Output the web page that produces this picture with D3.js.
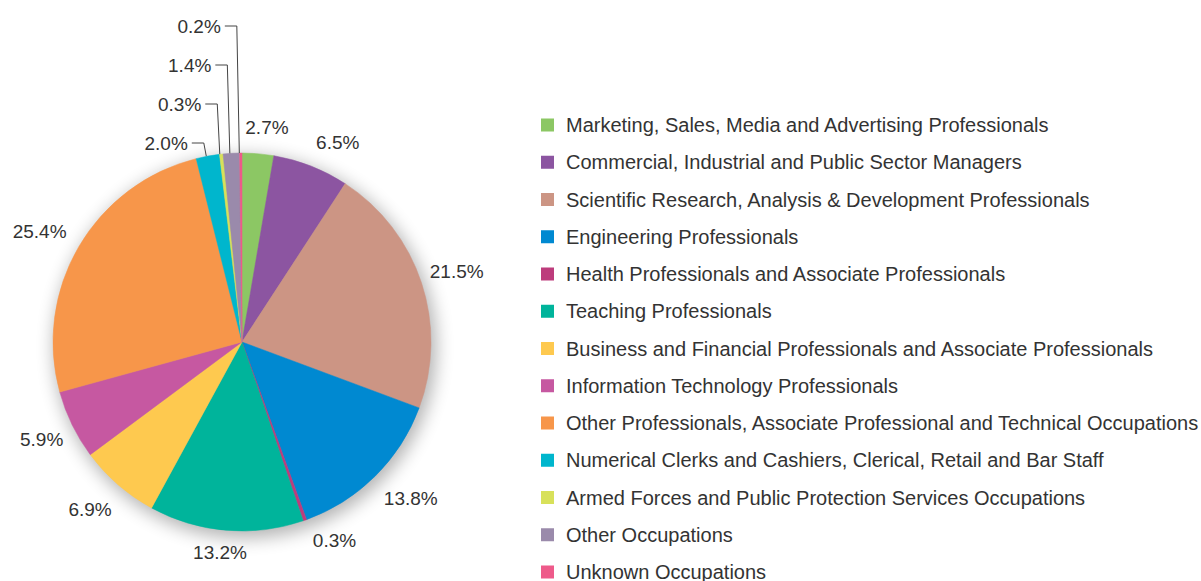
<!DOCTYPE html>
<html>
<head>
<meta charset="utf-8">
<script src="https://cdn.jsdelivr.net/npm/d3@7"></script>
<style>
    body { margin: 0; background: #fff; }
    text { font-family: "Liberation Sans", Arial, sans-serif; fill: #333; }
</style>
</head>
<body>
<div id="graph"></div>
<script>
const categories = [
    "Marketing, Sales, Media and Advertising Professionals",
    "Commercial, Industrial and Public Sector Managers",
    "Scientific Research, Analysis & Development Professionals",
    "Engineering Professionals",
    "Health Professionals and Associate Professionals",
    "Teaching Professionals",
    "Business and Financial Professionals and Associate Professionals",
    "Information Technology Professionals",
    "Other Professionals, Associate Professional and Technical Occupations",
    "Numerical Clerks and Cashiers, Clerical, Retail and Bar Staff",
    "Armed Forces and Public Protection Services Occupations",
    "Other Occupations",
    "Unknown Occupations",
];
const shares = [2.7, 6.5, 21.5, 13.8, 0.3, 13.2, 6.9, 5.9, 25.4, 2.0, 0.3, 1.4, 0.2];
const colors = [
    "#8cc764", "#8c55a1", "#cc9584", "#0089d1", "#bd3c7c", "#00b49b", "#fec94f",
    "#c658a1", "#f7964a", "#00b6cd", "#d8e15a", "#9a8aab", "#ee5a8a",
];
// slices whose labels are pulled up above the pie with leader lines
const calledOut = [9, 10, 11, 12];
// hand nudges of the outside labels, px (layout only)
const labelNudge = [
    [6, 9], [14, 9], [2, -1], [11, -3], [18, -13], [-3, -13], [-5, -2], [1, -1], [-9, 2],
];

const width = 1201, height = 581;
const cx = 242, cy = 342, radius = 189;

const svg = d3.select("#graph").append("svg")
    .attr("width", width)
    .attr("height", height);

const defs = svg.append("defs");
const shadow = defs.append("filter").attr("id", "shadow")
    .attr("x", "-30%").attr("y", "-30%").attr("width", "160%").attr("height", "160%");
shadow.append("feGaussianBlur").attr("stdDeviation", 9);

const data = categories.map((name, i) => ({ name, value: shares[i], color: colors[i], i }));

const pie = d3.pie().sort(null).value((d) => d.value);
const arcs = pie(data);
const arc = d3.arc().innerRadius(0).outerRadius(radius);
const labelArc = d3.arc().innerRadius(224).outerRadius(224);

const g = svg.append("g").attr("transform", `translate(${cx},${cy})`);

g.append("circle")
    .attr("cx", 3).attr("cy", 5).attr("r", radius + 2)
    .attr("fill", "#000").attr("opacity", 0.3)
    .attr("filter", "url(#shadow)");

g.selectAll("path.slice")
    .data(arcs)
    .enter().append("path")
    .attr("class", "slice")
    .attr("d", arc)
    .attr("fill", (d) => d.data.color)
    .attr("stroke", (d) => d.data.color)
    .attr("stroke-width", 0.5);

const fmt = (v) => v.toFixed(1) + "%";

// labels around the pie
g.selectAll("text.pct")
    .data(arcs.filter((d) => !calledOut.includes(d.data.i)))
    .enter().append("text")
    .attr("class", "pct")
    .attr("x", (d) => labelArc.centroid(d)[0] + labelNudge[d.data.i][0])
    .attr("y", (d) => labelArc.centroid(d)[1] + labelNudge[d.data.i][1])
    .attr("dy", "0.35em")
    .attr("text-anchor", "middle")
    .style("font-size", "19px")
    .text((d) => fmt(d.data.value));

// stacked call-outs for the thin slices near the top
const outer = d3.arc().innerRadius(radius).outerRadius(radius);
calledOut.forEach((idx, k) => {
    const a = arcs[idx];
    const [ex, ey] = outer.centroid(a);
    const elbowX = ex - 4;
    const ly = -radius - 10 - k * 39;
    g.append("polyline")
        .attr("points", [[elbowX - 12, ly], [elbowX, ly], [ex - 1.5, ey]].map((p) => p.join(",")).join(" "))
        .attr("fill", "none")
        .attr("stroke", "#444")
        .attr("stroke-width", 1);
    g.append("text")
        .attr("x", elbowX - 16)
        .attr("y", ly)
        .attr("dy", "0.35em")
        .attr("text-anchor", "end")
        .style("font-size", "19px")
        .text(fmt(a.data.value));
});

// legend
const legend = svg.append("g").attr("transform", "translate(541,125)");
const rows = legend.selectAll("g.row")
    .data(data)
    .enter().append("g")
    .attr("class", "row")
    .attr("transform", (d, i) => `translate(0,${i * 37.25})`);

rows.append("rect")
    .attr("x", 0).attr("y", -6.5)
    .attr("width", 13).attr("height", 13)
    .attr("fill", (d) => d.color);

rows.append("text")
    .attr("x", 25)
    .attr("y", 0)
    .attr("dy", "0.35em")
    .style("font-size", "20px")
    .text((d) => d.name);
</script>
</body>
</html>
